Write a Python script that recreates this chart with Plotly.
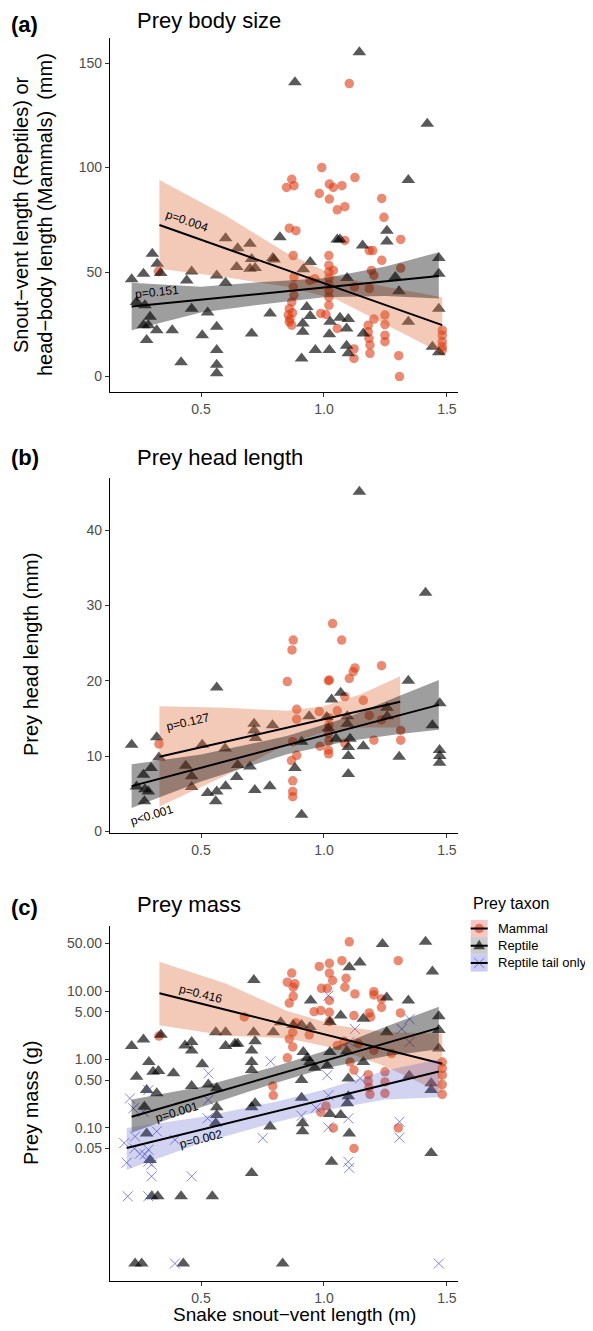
import math
import plotly.graph_objects as go

W, H = 593, 1331
OFF = 8  # the page body adds an 8px margin; the figure is sized to fit inside it
FW, FH = W - OFF, H - OFF

# ---------------- data ----------------
# (a) prey body size (mm) vs snake SVL (m)
a_mammal_x = [1.103, 0.991, 0.869, 0.848, 0.878, 1.022, 1.038, 1.073, 1.126, 0.981,
              1.022, 1.054, 1.085, 1.235, 1.244, 0.859, 0.886, 1.085, 1.312, 1.184,
              1.198, 0.875, 1.235, 1.02, 1.02, 1.02, 1.02, 1.02, 1.02, 1.02,
              1.038, 0.878, 0.875, 0.878, 0.869, 0.859, 0.855, 0.859, 0.869, 0.943,
              0.963, 1.193, 1.203, 1.312, 1.02, 0.987, 1.008, 1.184, 1.124, 1.203,
              1.248, 1.248, 1.248, 1.248, 1.18, 1.18, 1.183, 1.187, 1.187, 1.054,
              1.122, 1.122, 1.304, 1.307, 1.481, 1.481, 1.481, 1.481, 1.481, 0.327,
              0.862, 0.872]
a_mammal_y = [140.2, 100, 94.4, 90.5, 91.3, 92.1, 90.5, 91.3, 95.2, 87.6,
              84.9, 79.8, 81.3, 85.2, 76.2, 71.0, 69.8, 65.1, 65.6, 60.3,
              60.3, 57.9, 55.6, 57.9, 53.2, 50, 47, 44, 41, 38,
              50.8, 47.6, 42.9, 38.9, 35.7, 32.5, 29.4, 26.2, 24.6, 46.0,
              46.8, 50.8, 48.4, 51.9, 34.1, 30.2, 29.7, 42.1, 42.9, 27.5,
              29.4, 24.9, 19.8, 16.7, 24.6, 21.4, 18.3, 15.1, 11.1, 23.0,
              13.2, 8.7, 10, 0, 22.2, 19.8, 16.7, 14.3, 12.7, 50.3,
              27.5, 30.5]
a_reptile_x = [0.218, 0.266, 0.302, 0.322, 0.336, 0.462, 0.442, 0.564, 0.600, 0.649,
               0.645, 0.699, 0.600, 0.706, 0.699, 0.238, 0.272, 0.293, 0.266, 0.286,
               0.320, 0.279, 0.383, 0.462, 0.527, 0.505, 0.564, 0.564, 0.564, 0.564,
               0.419, 0.706, 1.144, 0.882, 1.343, 0.821, 1.054, 1.065, 1.256, 1.256,
               1.157, 0.792, 0.944, 0.916, 1.094, 1.305, 0.781, 0.930, 0.944, 0.914,
               0.914, 1.025, 1.065, 1.099, 1.022, 1.092, 1.160, 0.965, 1.022, 1.092,
               1.099, 0.909, 1.343, 1.467, 1.467, 1.467, 1.441, 1.467, 1.29, 1.42,
               0.72, 0.797]
a_reptile_y = [46.5, 49.2, 58.7, 54.0, 49.5, 50.3, 46.0, 48.4, 66.2, 61.4,
               52.4, 63.5, 44.9, 56.3, 51.6, 35.7, 34.1, 28.6, 24.6, 24.6,
               22.2, 17.5, 22.2, 32.5, 30.6, 19.8, 23.8, 12.7, 5.6, 1.6,
               6.8, 20.6, 155.1, 140.8, 94.1, 66.7, 65.6, 65.6, 69.8, 64.6,
               62.7, 56.7, 54.8, 51.3, 47.1, 40.8, 30.2, 33.3, 29.0, 25.4,
               21.4, 26.2, 28.1, 27.5, 20.2, 23.0, 20.6, 12.7, 12.7, 14.8,
               11.1, 8.7, 26.2, 56.7, 49.2, 32.5, 14.3, 11.6, 47.6, 121,
               52.0, 56.0]
a_fit_mammal_x = [0.331, 1.481]
a_fit_mammal_y = [72.5, 24.6]
a_band_mammal_x = [0.331, 0.6, 0.85, 1.05, 1.25, 1.481]
a_band_mammal_lo = [51.6, 47.5, 43.0, 37.0, 25.0, 11.0]
a_band_mammal_hi = [94.0, 77.0, 59.0, 48.0, 43.0, 38.0]
a_fit_reptile_x = [0.218, 1.467]
a_fit_reptile_y = [33.5, 48.1]
a_band_reptile_x = [0.218, 0.5, 0.72, 1.0, 1.25, 1.467]
a_band_reptile_lo = [22.2, 30.6, 34.1, 38.0, 38.6, 37.3]
a_band_reptile_hi = [44.9, 43.0, 45.0, 47.0, 52.6, 59.5]

# (b) prey head length (mm)
b_mammal_x = [0.329, 1.035, 0.875, 0.870, 1.072, 0.851, 1.022, 1.018, 1.126, 1.119,
              1.103, 1.234, 1.085, 1.160, 0.889, 0.889, 0.981, 1.054, 1.02, 1.02,
              1.018, 1.02, 1.018, 1.019, 1.184, 1.234, 1.312, 1.312, 1.203, 0.873,
              0.889, 0.868, 0.984, 1.085, 0.873, 0.873, 0.873]
b_mammal_y = [11.6, 27.6, 25.4, 24.1, 25.4, 19.9, 20.1, 20.0, 21.7, 21.2,
              20.3, 22.0, 17.9, 17.4, 16.2, 14.9, 15.9, 16.0, 15.1, 14.1,
              13.0, 12.0, 10.8, 10.3, 15.4, 14.8, 13.4, 12.1, 12.1, 11.9,
              10.1, 9.4, 11.3, 11.7, 6.7, 5.3, 4.6]
b_reptile_x = [0.218, 0.266, 0.238, 0.272, 0.297, 0.320, 0.329, 0.286, 0.270, 0.438,
               0.462, 0.462, 0.505, 0.598, 0.527, 0.564, 0.560, 0.600, 0.564, 0.645,
               0.649, 0.716, 0.722, 0.699, 0.780, 0.719, 0.791, 0.716, 1.144, 0.882,
               0.909, 0.909, 0.940, 1.031, 1.068, 1.011, 1.018, 1.049, 1.095, 1.095,
               1.106, 1.099, 1.099, 1.099, 1.160, 1.256, 1.257, 1.306, 1.343, 1.413,
               1.441, 1.471, 1.47, 1.471, 1.47]
b_reptile_y = [11.5, 7.5, 5.95, 5.6, 8.4, 12.5, 9.8, 5.3, 4.0, 8.7,
               7.3, 5.9, 11.5, 11.0, 5.1, 5.3, 4.0, 6.0, 19.1, 7.2,
               8.8, 14.3, 12.4, 8.6, 6.0, 5.5, 14.1, 13.4, 45.1, 8.4,
               11.9, 2.2, 15.3, 17.5, 18.4, 15.2, 13.7, 12.3, 15.3, 14.3,
               12.3, 11.2, 10.0, 7.6, 11.3, 16.4, 15.3, 9.9, 20.0, 31.7,
               14.1, 17.0, 10.8, 10.0, 9.1]
b_fit_mammal_x = [0.331, 1.31]
b_fit_mammal_y = [9.9, 17.2]
b_band_mammal_x = [0.331, 0.6, 0.85, 1.0, 1.15, 1.31]
b_band_mammal_lo = [3.3, 7.4, 11.6, 13.2, 13.8, 13.8]
b_band_mammal_hi = [16.6, 16.4, 16.0, 16.6, 18.2, 20.6]
b_fit_reptile_x = [0.218, 1.467]
b_fit_reptile_y = [6.0, 16.8]
b_band_reptile_x = [0.218, 0.5, 0.85, 1.1, 1.3, 1.467]
b_band_reptile_lo = [3.1, 6.6, 10.25, 12.0, 12.9, 13.5]
b_band_reptile_hi = [8.9, 10.2, 12.65, 15.2, 17.9, 20.1]

# (c) prey mass (g), log scale
c_mammal_x = [0.329, 0.676, 1.103, 1.302, 0.981, 1.022, 1.073, 0.869, 0.851, 0.882,
              0.875, 1.022, 1.035, 1.014, 1.09, 1.085, 1.126, 0.875, 0.859, 0.99,
              1.203, 1.203, 1.234, 1.234, 0.96, 0.987, 1.022, 1.022, 1.022, 0.886,
              0.873, 0.859, 0.873, 0.851, 0.94, 1.122, 1.184, 1.19, 1.311, 1.054,
              1.081, 1.14, 1.203, 1.275, 1.106, 1.122, 1.18, 1.18, 1.183, 1.187,
              1.248, 1.248, 1.248, 0.792, 0.794, 1.008, 0.987, 1.038, 1.122, 1.302,
              1.481, 1.481, 1.481, 1.481, 1.481]
c_mammal_y = [2.2, 4.2, 52.6, 27.9, 23, 25.5, 27.9, 18.4, 13.5, 12.8,
              11.4, 18.4, 14.3, 11.0, 15.4, 11.4, 9.1, 8.4, 6.7, 11,
              9.8, 8.8, 7.7, 5.8, 5.0, 5.2, 7.3, 4.9, 3.6, 3.45,
              2.5, 2.0, 1.53, 1.06, 2.3, 4.4, 4.8, 4.2, 4.8, 1.6,
              1.85, 1.7, 1.36, 1.22, 0.92, 0.70, 0.6, 0.48, 0.39, 0.31,
              0.66, 0.47, 0.32, 0.41, 0.30, 0.21, 0.17, 0.10, 0.05, 0.10,
              0.92, 0.74, 0.59, 0.43, 0.31]
c_reptile_x = [0.218, 0.266, 0.238, 0.288, 0.305, 0.327, 0.388, 0.279, 0.320, 0.270,
               0.279, 0.293, 0.300, 0.324, 0.419, 0.546, 0.232, 0.259, 0.428, 0.337,
               0.462, 0.530, 0.564, 0.564, 0.564, 0.560, 0.435, 0.462, 0.462, 0.560,
               0.600, 0.600, 0.638, 0.649, 0.505, 0.715, 0.706, 0.706, 0.706, 0.706,
               0.706, 0.714, 0.72, 1.238, 1.103, 1.146, 0.946, 1.255, 1.343, 1.024,
               1.068, 0.824, 0.794, 0.875, 0.909, 0.943, 1.16, 1.255, 0.916, 0.932,
               0.943, 0.963, 1.024, 1.013, 1.093, 1.160, 1.347, 0.909, 0.909, 1.099,
               1.099, 1.095, 1.024, 1.068, 0.781, 0.913, 0.913, 1.103, 1.031, 0.72,
               0.832, 1.413, 1.441, 1.467, 1.467, 1.467, 1.436, 1.436, 1.436]
c_reptile_y = [1.58, 1.97, 0.56, 0.92, 0.66, 0.68, 0.63, 0.357, 0.32, 0.204,
               0.083, 0.034, 0.01, 0.01, 0.01, 0.01, 0.00104, 0.00104, 0.00104, 2.31,
               0.41, 0.43, 0.38, 0.20, 0.155, 0.117, 1.61, 1.81, 1.36, 2.5,
               2.5, 1.58, 1.7, 1.7, 0.85, 14.5, 1.35, 0.92, 0.70, 0.20,
               0.022, 2.5, 1.85, 48.8, 22.3, 26.3, 7.3, 8.1, 7.3, 3.53,
               4.4, 3.5, 2.5, 3.2, 3.2, 3.0, 3.95, 2.5, 1.29, 1.05,
               0.92, 0.76, 1.29, 0.81, 1.32, 0.92, 0.58, 0.50, 0.275, 0.53,
               0.29, 0.23, 0.16, 0.155, 0.105, 0.117, 0.089, 0.083, 0.032, 0.23,
               0.00104, 52.7, 19.3, 4.3, 2.7, 1.45, 0.45, 0.357, 0.043]
c_tail_x = [0.211, 0.225, 0.286, 0.266, 0.188, 0.198, 0.232, 0.229, 0.252, 0.272,
            0.286, 0.286, 0.299, 0.299, 0.320, 0.202, 0.286, 0.394, 0.462, 0.394,
            0.530, 0.530, 0.527, 0.751, 0.909, 0.783, 1.018, 1.013, 1.018, 0.967,
            1.018, 1.099, 1.126, 1.103, 1.147, 1.099, 1.103, 1.307, 1.307, 1.316,
            1.348, 1.348, 1.467]
c_tail_y = [0.27, 0.193, 0.357, 0.172, 0.060, 0.031, 0.075, 0.050, 0.042, 0.041,
            0.048, 0.032, 0.029, 0.0196, 0.089, 0.01, 0.01, 0.067, 0.0196, 0.00104,
            0.625, 0.257, 0.138, 0.071, 0.15, 0.94, 8.6, 0.59, 0.30, 0.197,
            0.102, 0.138, 2.8, 1.81, 0.53, 0.032, 0.026, 0.123, 0.072, 2.8,
            3.9, 1.8, 0.00104]
c_fit_mammal_x = [0.331, 1.481]
c_fit_mammal_y = [9.3, 0.87]
c_band_mammal_x = [0.331, 0.6, 0.85, 1.05, 1.25, 1.481]
c_band_mammal_lo = [3.16, 2.24, 2.04, 1.45, 0.79, 0.32]
c_band_mammal_hi = [26.9, 12.9, 5.13, 3.16, 2.51, 2.40]
c_fit_reptile_x = [0.218, 1.467]
c_fit_reptile_y = [0.146, 2.9]
c_band_reptile_x = [0.218, 0.5, 0.8, 1.0, 1.25, 1.467]
c_band_reptile_lo = [0.085, 0.20, 0.45, 0.74, 1.12, 1.41]
c_band_reptile_hi = [0.26, 0.40, 0.79, 1.32, 3.02, 5.89]
c_fit_tail_x = [0.198, 1.467]
c_fit_tail_y = [0.051, 0.67]
c_band_tail_x = [0.198, 0.5, 0.8, 1.0, 1.25, 1.467]
c_band_tail_lo = [0.0245, 0.060, 0.12, 0.18, 0.26, 0.28]
c_band_tail_hi = [0.10, 0.145, 0.24, 0.36, 0.69, 1.0]

x_ticks = [0.5, 1.0, 1.5]
c_ticks = [0.05, 0.1, 0.5, 1, 5, 10, 50]
c_tick_text = ["0.05", "0.10", "0.50", "1.00", "5.00", "10.00", "50.00"]
legend_labels = ["Mammal", "Reptile", "Reptile tail only"]

# ---------------- styles ----------------
FONT = "Liberation Sans, Arial, sans-serif"
MAMMAL_PT = "rgba(220,60,20,0.6)"
REPTILE_PT = "rgba(0,0,0,0.65)"
TAIL_PT = "rgba(80,80,210,0.7)"
MAMMAL_BAND = "rgba(220,100,50,0.35)"
REPTILE_BAND = "rgba(0,0,0,0.38)"
TAIL_BAND = "rgba(70,80,200,0.25)"


def px(x):
    return (x - OFF) / FW


def py(y):
    return 1 - (y - OFF) / FH


def points(x, y, kind, n):
    if kind == "mammal":
        marker = dict(symbol="circle", size=9.5, color=MAMMAL_PT, line=dict(width=0))
    elif kind == "reptile":
        marker = dict(symbol="triangle-up", size=12, color=REPTILE_PT, line=dict(width=0))
    else:
        marker = dict(symbol="x-thin-open", size=10, color=TAIL_PT, line=dict(width=1, color=TAIL_PT))
    return go.Scatter(x=x, y=y, mode="markers", marker=marker, showlegend=False,
                      hoverinfo="skip", xaxis=f"x{n}", yaxis=f"y{n}")


def band(x, lo, hi, color, n):
    return go.Scatter(x=x + x[::-1], y=hi + lo[::-1], mode="lines", fill="toself",
                      fillcolor=color, line=dict(width=0), showlegend=False,
                      hoverinfo="skip", xaxis=f"x{n}", yaxis=f"y{n}")


def fit(x, y, n):
    return go.Scatter(x=x, y=y, mode="lines", line=dict(color="black", width=2),
                      showlegend=False, hoverinfo="skip", xaxis=f"x{n}", yaxis=f"y{n}")


fig = go.Figure()
# panel a
fig.add_trace(points(a_mammal_x, a_mammal_y, "mammal", ""))
fig.add_trace(points(a_reptile_x, a_reptile_y, "reptile", ""))
fig.add_trace(band(a_band_mammal_x, a_band_mammal_lo, a_band_mammal_hi, MAMMAL_BAND, ""))
fig.add_trace(fit(a_fit_mammal_x, a_fit_mammal_y, ""))
fig.add_trace(band(a_band_reptile_x, a_band_reptile_lo, a_band_reptile_hi, REPTILE_BAND, ""))
fig.add_trace(fit(a_fit_reptile_x, a_fit_reptile_y, ""))
# panel b
fig.add_trace(points(b_mammal_x, b_mammal_y, "mammal", 2))
fig.add_trace(points(b_reptile_x, b_reptile_y, "reptile", 2))
fig.add_trace(band(b_band_mammal_x, b_band_mammal_lo, b_band_mammal_hi, MAMMAL_BAND, 2))
fig.add_trace(fit(b_fit_mammal_x, b_fit_mammal_y, 2))
fig.add_trace(band(b_band_reptile_x, b_band_reptile_lo, b_band_reptile_hi, REPTILE_BAND, 2))
fig.add_trace(fit(b_fit_reptile_x, b_fit_reptile_y, 2))
# panel c
fig.add_trace(points(c_mammal_x, c_mammal_y, "mammal", 3))
fig.add_trace(points(c_reptile_x, c_reptile_y, "reptile", 3))
fig.add_trace(points(c_tail_x, c_tail_y, "tail", 3))
fig.add_trace(band(c_band_mammal_x, c_band_mammal_lo, c_band_mammal_hi, MAMMAL_BAND, 3))
fig.add_trace(fit(c_fit_mammal_x, c_fit_mammal_y, 3))
fig.add_trace(band(c_band_reptile_x, c_band_reptile_lo, c_band_reptile_hi, REPTILE_BAND, 3))
fig.add_trace(fit(c_fit_reptile_x, c_fit_reptile_y, 3))
fig.add_trace(band(c_band_tail_x, c_band_tail_lo, c_band_tail_hi, TAIL_BAND, 3))
fig.add_trace(fit(c_fit_tail_x, c_fit_tail_y, 3))

axis_style = dict(showline=True, linecolor="black", linewidth=1.2, ticks="outside",
                  ticklen=4, tickwidth=1, tickcolor="#333333", showgrid=False,
                  zeroline=False, tickfont=dict(family=FONT, size=14, color="#4d4d4d"))
xdom = [px(110), px(458)]
x_style = dict(axis_style, domain=xdom, range=[0.130, 1.545], tickvals=x_ticks,
               ticktext=["0.5", "1.0", "1.5"])

fig.update_layout(
    width=FW, height=FH,
    margin=dict(l=0, r=0, t=0, b=0, pad=0),
    plot_bgcolor="white", paper_bgcolor="white",
    showlegend=False,
    font=dict(family=FONT, color="black"),
    xaxis=dict(x_style, anchor="y"),
    xaxis2=dict(x_style, anchor="y2"),
    xaxis3=dict(x_style, anchor="y3"),
    yaxis=dict(axis_style, anchor="x", domain=[py(394), py(38.3)], range=[-7.5, 161.9],
               tickvals=[0, 50, 100, 150]),
    yaxis2=dict(axis_style, anchor="x2", domain=[py(836.7), py(480)], range=[-0.22, 46.96],
                tickvals=[0, 10, 20, 30, 40]),
    yaxis3=dict(axis_style, anchor="x3", type="log", domain=[py(1286.7), py(930)],
                range=[-3.237, 1.955], tickvals=c_ticks, ticktext=c_tick_text),
)

ann = []


def text(x, y, s, size, xanchor="center", yanchor="middle", angle=0, bold=False,
         color="black", xref="paper", yref="paper"):
    if bold:
        s = f"<b>{s}</b>"
    ann.append(dict(x=x, y=y, xref=xref, yref=yref, text=s, showarrow=False,
                    xanchor=xanchor, yanchor=yanchor, textangle=angle, borderpad=0,
                    font=dict(family=FONT, size=size, color=color)))


# panel labels and titles
for lab, yy in [("(a)", 25), ("(b)", 460), ("(c)", 912)]:
    text(px(10), py(yy), lab, 22, xanchor="left", bold=True)
for ttl, yy in [("Prey body size", 21), ("Prey head length", 460), ("Prey mass", 909)]:
    text(px(136), py(yy), ttl, 22, xanchor="left")

# axis titles
text(px(21), py(216), "Snout\u2212vent length (Reptiles) or", 20, angle=-90)
text(px(45), py(216), "head\u2212body length (Mammals)&nbsp; (mm)", 20, angle=-90)
text(px(31), py(658), "Prey head length (mm)", 20, angle=-90)
text(px(31), py(1108), "Prey mass (g)", 20, angle=-90)
text(px(294), py(1320), "Snake snout\u2212vent length (m)", 19)

# p-values along the fits
text(0.443, 74.4, "p=0.004", 12, angle=19, xref="x", yref="y")
text(0.321, 40.6, "p=0.151", 12, angle=-6, xref="x", yref="y")
text(0.447, 14.55, "p=0.127", 12, angle=-13, xref="x2", yref="y2")
text(0.301, 2.1, "p&lt;0.001", 12, angle=-17, xref="x2", yref="y2")
text(0.5, 0.965, "p=0.416", 12, angle=14, xref="x3", yref="y3")
text(0.402, -0.768, "p=0.001", 12, angle=-17, xref="x3", yref="y3")
text(0.5, -1.16, "p=0.002", 12, angle=-14, xref="x3", yref="y3")

# legend (drawn as a guide next to panel c)
text(px(472), py(908), "Prey taxon", 16, xanchor="left")
shapes = []
key_fill = ["rgba(240,170,165,0.65)", "rgba(170,170,170,0.6)", "rgba(170,170,240,0.6)"]
rows = [932.7, 950, 967.3]
kx0, kx1 = 470.7, 487.7
kc = (kx0 + kx1) / 2
for i, (lab, yy) in enumerate(zip(legend_labels, rows)):
    shapes.append(dict(type="rect", xref="paper", yref="paper", x0=px(kx0), x1=px(kx1),
                       y0=py(yy + 8.65), y1=py(yy - 8.65), fillcolor=key_fill[i],
                       line=dict(width=0), layer="above"))
    if i == 0:
        shapes.append(dict(type="circle", xref="paper", yref="paper", x0=px(kc - 4.7),
                           x1=px(kc + 4.7), y0=py(yy + 4.7), y1=py(yy - 4.7),
                           fillcolor=MAMMAL_PT, line=dict(width=0), layer="above"))
    elif i == 1:
        path = (f"M{px(kc - 5.8)},{py(yy + 3.6)} L{px(kc + 5.8)},{py(yy + 3.6)} "
                f"L{px(kc)},{py(yy - 6.0)} Z")
        shapes.append(dict(type="path", xref="paper", yref="paper", path=path,
                           fillcolor=REPTILE_PT, line=dict(width=0), layer="above"))
    else:
        for sgn in (1, -1):
            shapes.append(dict(type="line", xref="paper", yref="paper",
                               x0=px(kc - 5), x1=px(kc + 5), y0=py(yy - 5 * sgn),
                               y1=py(yy + 5 * sgn), line=dict(color=TAIL_PT, width=1),
                               layer="above"))
    shapes.append(dict(type="line", xref="paper", yref="paper", x0=px(kx0), x1=px(kx1),
                       y0=py(yy), y1=py(yy), line=dict(color="black", width=2),
                       layer="above"))
    text(px(497), py(yy), lab, 13, xanchor="left")

fig.update_layout(annotations=ann, shapes=shapes)
fig.write_html("out.html")
